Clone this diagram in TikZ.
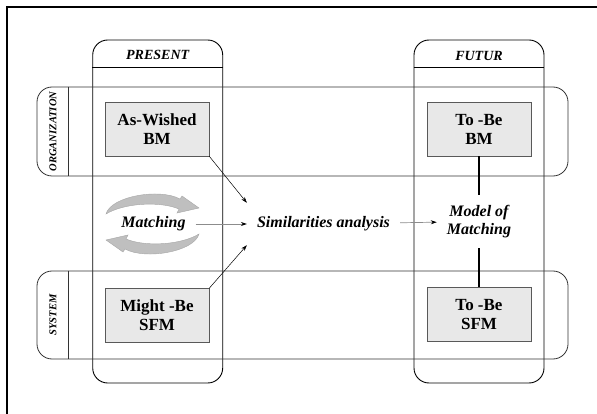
\documentclass[tikz,border=0pt]{standalone}
\usepackage{fontspec}
\setmainfont{Liberation Serif}
\usetikzlibrary{arrows.meta}

\begin{document}
\begin{tikzpicture}[x=1pt, y=-1pt,
    lane/.style={draw, line width=0.9pt, rounded corners=15pt, minimum width=130pt, minimum height=343pt, inner sep=0pt},
    band/.style={draw=black!80, line width=0.8pt, rounded corners=15pt, minimum width=531pt, inner sep=0pt},
    modelbox/.style={draw=black!65, fill=black!9, line width=0.7pt, minimum width=104pt, minimum height=54pt, align=center, font=\bfseries\fontsize{17}{19}\selectfont},
    colhead/.style={font=\bfseries\itshape\fontsize{14}{16}\selectfont},
    rowlabel/.style={rotate=90, font=\bfseries\itshape\fontsize{10.5}{12}\selectfont},
    phase/.style={align=center, inner xsep=10pt, font=\bfseries\itshape\fontsize{16}{18}\selectfont},
    link/.style={-{Stealth[length=6pt,width=4pt]}, line width=0.5pt},
    flow/.style={draw=black!45, line width=0.7pt, -{Stealth[length=6pt,width=4pt,black]}},
    swirl/.style={fill=black!25, draw=black!35, line width=0.4pt}
]
    \useasboundingbox (0,0) rectangle (597,414);
    % frame
    \draw[line width=2pt] (597,7) -- (7,7) -- (7,414);

    % columns
    \node[lane] (present) at (157.7,211.5) {};
    \node[lane] (futur) at (479,211.5) {};
    \draw[line width=0.9pt] ([yshift=-28pt]present.north west) -- ([yshift=-28pt]present.north east);
    \draw[line width=0.9pt] ([yshift=-28pt]futur.north west) -- ([yshift=-28pt]futur.north east);
    \node[colhead] (presentlbl) at (157.7,55) {PRESENT};
    \node[colhead] (futurlbl) at (479,56) {FUTUR};

    % rows
    \node[band, minimum height=89pt] (organization) at (302.5,131.5) {};
    \node[band, minimum height=88pt] (system) at (302.5,315) {};
    \draw[black!80, line width=0.8pt] ([xshift=32pt]organization.north west) -- ([xshift=32pt]organization.south west);
    \draw[black!80, line width=0.8pt] ([xshift=32pt]system.north west) -- ([xshift=32pt]system.south west);
    \node[rowlabel] (orglbl) at (53,131.5) {ORGANIZATION};
    \node[rowlabel] (syslbl) at (53,315) {SYSTEM};

    % models
    \node[modelbox] (aswished) at (157,129) {As-Wished\\BM};
    \node[modelbox] (tobebm) at (479,129) {To -Be\\BM};
    \node[modelbox] (mightbe) at (157,315.5) {Might -Be\\SFM};
    \node[modelbox] (tobesfm) at (479,314.5) {To -Be\\SFM};

    % matching cycle
    \foreach \ang in {0,180}
        \filldraw[swirl, rotate around={\ang:(152.5,224)}] (106,214) .. controls (111,196) and (160,188) .. (180,199) -- (182,196) -- (199,208) -- (177,213) -- (179,209) .. controls (160,201) and (124,203) .. (106,214) -- cycle;

    \node[phase] (matching) at (153.5,224) {Matching};
    \node[phase, minimum height=42pt] (similar) at (323.5,224) {Similarities analysis};
    \node[phase, minimum height=53pt] (matchmodel) at (479,221.5) {Model of\\Matching};

    % connectors
    \draw[link] (aswished.south east) -- (similar.north west);
    \draw[link] (mightbe.north east) -- (similar.south west);
    \draw[flow] (matching) -- (similar);
    \draw[flow] (similar) -- (matchmodel);
    \draw[line width=1.2pt] (tobebm) -- (matchmodel);
    \draw[line width=1.2pt] (matchmodel) -- (tobesfm);
\end{tikzpicture}
\end{document}
